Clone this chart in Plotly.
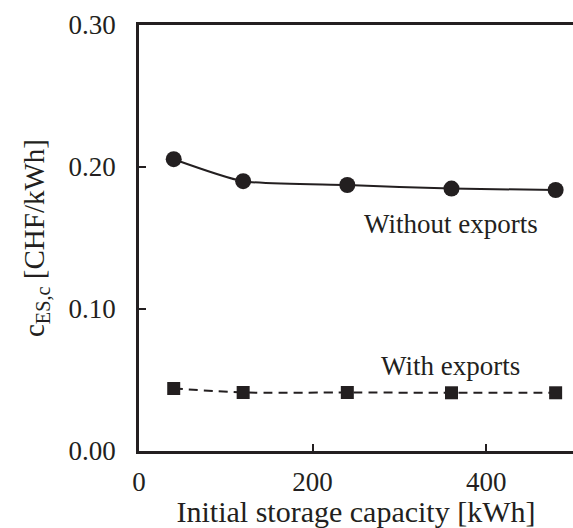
import plotly.graph_objects as go

# Storage capacity cases and levelised storage cost
capacity_kwh = [40, 120, 240, 360, 480]
cost_without_exports = [0.2055, 0.190, 0.1873, 0.1848, 0.1838]
cost_with_exports = [0.0440, 0.0412, 0.0412, 0.0410, 0.0410]

x_ticks = [0, 200, 400]
y_ticks = [0.00, 0.10, 0.20, 0.30]
y_tick_text = ["0.00", "0.10", "0.20", "0.30"]

ink = "#231f20"
serif = "Liberation Serif"

fig = go.Figure()

fig.add_trace(go.Scatter(
    x=capacity_kwh, y=cost_without_exports,
    mode="lines+markers",
    line=dict(color=ink, width=2, shape="spline", smoothing=0.6),
    marker=dict(symbol="circle", size=16, color=ink),
    name="Without exports",
))

fig.add_trace(go.Scatter(
    x=capacity_kwh, y=cost_with_exports,
    mode="lines+markers",
    line=dict(color=ink, width=2, dash="9px,6px", shape="spline", smoothing=0.6),
    marker=dict(symbol="square", size=13, color=ink),
    name="With exports",
))

fig.add_annotation(x=359, y=0.160, text="Without exports", showarrow=False,
                   font=dict(family=serif, size=27, color=ink))
fig.add_annotation(x=359, y=0.060, text="With exports", showarrow=False,
                   font=dict(family=serif, size=27, color=ink))

fig.update_layout(
    width=573, height=528,
    margin=dict(l=139, r=0, t=25, b=77),
    paper_bgcolor="white", plot_bgcolor="white",
    showlegend=False,
    font=dict(family=serif, size=27, color=ink),
    xaxis=dict(
        range=[0, 500], tickvals=x_ticks, ticks="inside", ticklen=7,
        tickwidth=1.5, tickcolor=ink,
        showline=True, linecolor=ink, linewidth=2.5, mirror=True,
        showgrid=False, zeroline=False,
        tickfont=dict(family=serif, size=27, color=ink),
        ticklabelstandoff=5,
        title=dict(text="Initial storage capacity [kWh]", standoff=0,
                   font=dict(family=serif, size=30, color=ink)),
    ),
    yaxis=dict(
        range=[0, 0.30], tickvals=y_ticks, ticktext=y_tick_text,
        ticks="inside", ticklen=7, tickwidth=1.5, tickcolor=ink,
        showline=True, linecolor=ink, linewidth=2.5,
        showgrid=False, zeroline=False,
        tickfont=dict(family=serif, size=27, color=ink),
        ticklabelstandoff=15,
        title=dict(text="c<sub>ES,c</sub> [CHF/kWh]", standoff=16,
                   font=dict(family=serif, size=29, color=ink)),
    ),
)

fig.write_html("out.html")
